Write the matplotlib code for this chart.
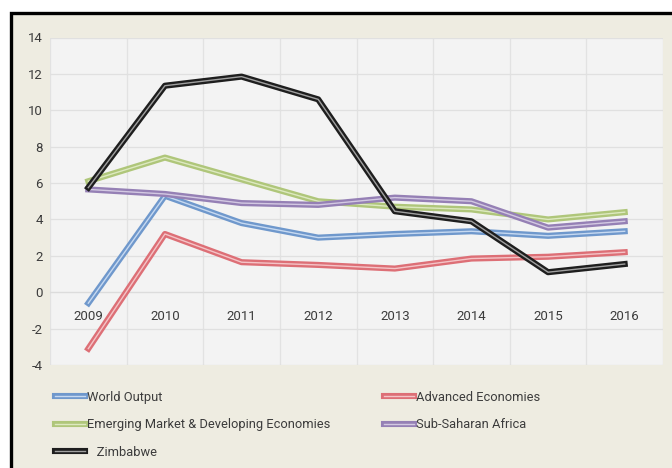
import numpy as np
import matplotlib
matplotlib.use("Agg")
import matplotlib.pyplot as plt
import matplotlib.patheffects as pe
from matplotlib.patches import Rectangle

plt.rcParams['font.family'] = ['Roboto', 'DejaVu Sans']
plt.rcParams['axes.unicode_minus'] = False

# ростки ВВП, % (данные с графика)
years = ["2009", "2010", "2011", "2012", "2013", "2014", "2015", "2016"]
world_output = [-0.6, 5.3, 3.8, 3.0, 3.2, 3.35, 3.1, 3.35]
advanced = [-3.1, 3.2, 1.65, 1.5, 1.3, 1.85, 1.95, 2.2]
emerging = [6.1, 7.4, 6.2, 5.0, 4.7, 4.55, 4.0, 4.4]
sub_saharan = [5.65, 5.4, 4.9, 4.8, 5.2, 5.0, 3.55, 3.9]
zimbabwe = [5.75, 11.35, 11.85, 10.6, 4.45, 3.9, 1.1, 1.55]

series = [
    ("World Output", world_output, "#6f98cc", "#c6d9f1"),
    ("Advanced Economies", advanced, "#dd6f76", "#f4c4c7"),
    ("Emerging Market & Developing Economies", emerging, "#afc67a", "#dde9c0"),
    ("Sub-Saharan Africa", sub_saharan, "#9580b5", "#d3c9e2"),
    ("   Zimbabwe", zimbabwe, "#1e1e1e", "#a0a0a0"),
]

fig = plt.figure(figsize=(6.72, 4.68), dpi=100, facecolor="white")
W, H = 672, 468

# рамка и бежевый фон
fig.patches.append(Rectangle((11 / W, -0.02), 1.02, 1 - 13 / H + 0.02,
                             transform=fig.transFigure, facecolor="#eeece1",
                             edgecolor="black", lw=2.4, zorder=-5))

ax = fig.add_axes([50 / W, 1 - 365 / H, 613 / W, (365 - 37.5) / H])
ax.set_facecolor("#f3f3f3")

x = np.arange(len(years))
lines = {}
for name, vals, outer, inner in series:
    ln, = ax.plot(x, vals, color=inner, lw=1.0, solid_joinstyle="round", zorder=3,
                  path_effects=[pe.Stroke(linewidth=4.4, foreground=outer), pe.Normal()])
    lines[name] = ln

ax.set_xlim(-0.5, len(years) - 0.5)
ax.set_ylim(-4, 14)
ax.set_yticks(range(-4, 15, 2))
ax.set_xticks(x)
ax.set_xticklabels(years)
ax.set_xticks(np.arange(-0.5, len(years), 1), minor=True)

ax.grid(True, axis="y", color="#e0e0e0", lw=0.9)
ax.grid(True, axis="x", which="minor", color="#e2e2e2", lw=0.9)
ax.set_axisbelow(True)

for s in ["top", "right", "left"]:
    ax.spines[s].set_visible(False)
ax.spines["bottom"].set_position(("data", 0))
ax.spines["bottom"].set_color("#dcdcdc")

ax.tick_params(axis="both", which="both", length=0, labelsize=9.5, labelcolor="#3c3c3c")
ax.tick_params(axis="x", pad=12.5)
ax.tick_params(axis="y", pad=5)

# легенда в две колонки
col1 = ["World Output", "Emerging Market & Developing Economies", "   Zimbabwe"]
col2 = ["Advanced Economies", "Sub-Saharan Africa"]
leg_kw = dict(frameon=False, fontsize=9.3, borderpad=0, borderaxespad=0,
              handlelength=2.35, handletextpad=0.1, labelspacing=1.12,
              labelcolor="#3c3c3c", loc="upper left")
leg1 = fig.legend([lines[n] for n in col1], col1, bbox_to_anchor=(55 / W, 1 - 391 / H), **leg_kw)
leg2 = fig.legend([lines[n] for n in col2], col2, bbox_to_anchor=(384 / W, 1 - 391 / H), **leg_kw)

fig.savefig("out.png", dpi=100, facecolor=fig.get_facecolor())
